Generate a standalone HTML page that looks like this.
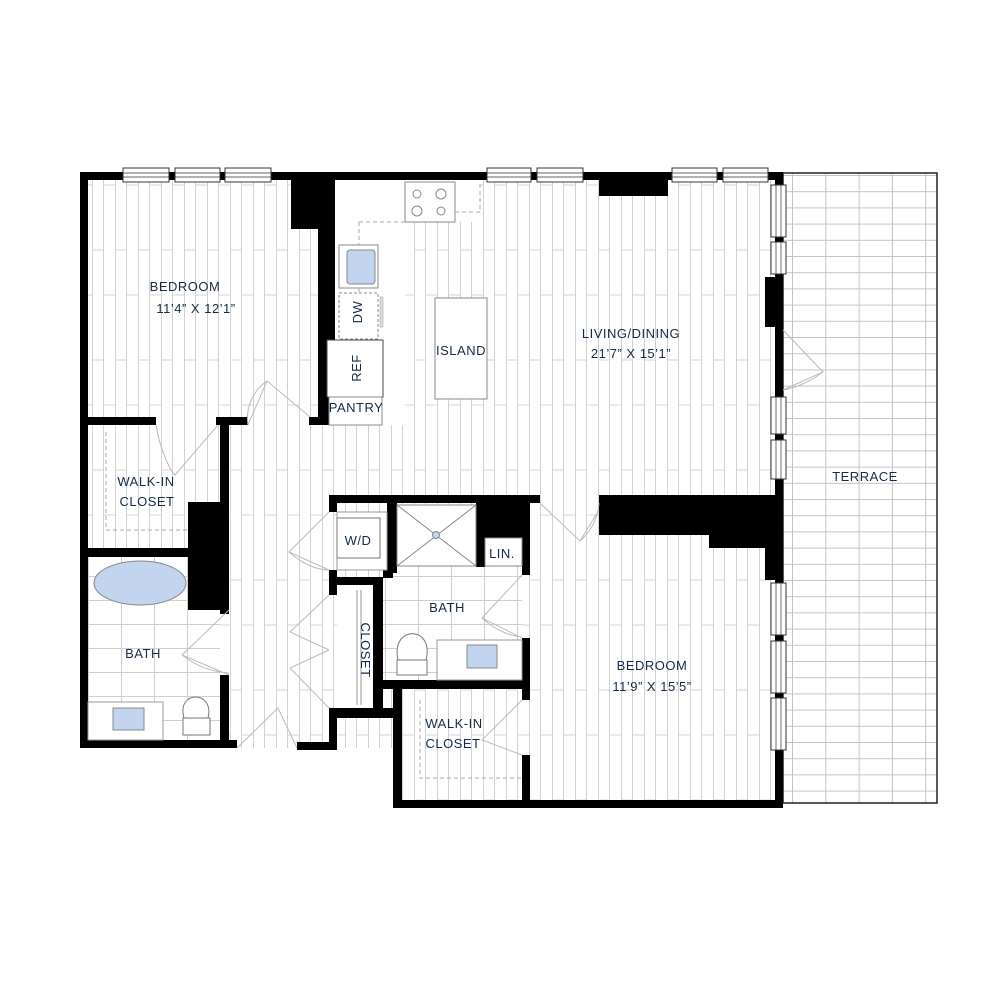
<!DOCTYPE html>
<html><head><meta charset="utf-8"><style>
html,body{margin:0;padding:0;background:#fff;width:1000px;height:1000px;overflow:hidden}
svg text{font-family:"Liberation Sans",sans-serif;fill:#132b4a;font-size:13px;letter-spacing:0.5px}
</style></head><body>
<svg width="1000" height="1000" viewBox="0 0 1000 1000" xmlns="http://www.w3.org/2000/svg">
<defs>
<pattern id="wood" x="0" y="0" width="23" height="110" patternUnits="userSpaceOnUse">
<rect width="23" height="110" fill="#fff"/>
<line x1="0.5" y1="0" x2="0.5" y2="110" stroke="#d2d2d2" stroke-width="1"/>
<line x1="11.5" y1="0" x2="11.5" y2="110" stroke="#d2d2d2" stroke-width="1"/>
<line x1="0" y1="30" x2="11" y2="30" stroke="#d6d6d6"/>
<line x1="12" y1="75" x2="23" y2="75" stroke="#d6d6d6"/>
</pattern>
<pattern id="tile" x="88" y="0" width="33" height="24" patternUnits="userSpaceOnUse">
<rect width="33" height="24" fill="#fff"/>
<path d="M0.5 0V24M0 0.5H33" stroke="#cfcfcf" fill="none"/>
</pattern>
<pattern id="terr" x="792" y="175" width="33.3" height="16.2" patternUnits="userSpaceOnUse">
<rect width="34" height="17" fill="#fff"/>
<path d="M0.5 0V17M0 0.5H34" stroke="#c4c4c4" fill="none"/>
</pattern>
</defs>

<rect x="88" y="180" width="688" height="620" fill="url(#wood)"/>
<rect x="335" y="180" width="70" height="245" fill="#fff"/>
<rect x="335" y="180" width="145" height="42" fill="#fff"/>
<rect x="88" y="557" width="132" height="183" fill="url(#tile)"/>
<rect x="383" y="566" width="139" height="114" fill="url(#tile)"/>
<rect x="783" y="173" width="154" height="630" fill="url(#terr)"/>
<rect x="783" y="173" width="154" height="630" fill="none" stroke="#222" stroke-width="1.5"/>
<rect x="0" y="808" width="1000" height="192" fill="#fff"/>
<rect x="80" y="748" width="313" height="60" fill="#fff"/>
<rect x="237" y="748" width="60" height="8" fill="#fff"/>

<g fill="#000">
<rect x="80" y="172" width="703" height="8"/>
<rect x="80" y="172" width="8" height="576"/>
<rect x="80" y="740" width="157" height="8"/>
<rect x="297" y="742" width="40" height="8"/>
<rect x="775" y="172" width="8" height="636"/>
<rect x="765" y="277" width="18" height="50"/>
<rect x="393" y="800" width="390" height="8"/>
<rect x="291" y="172" width="44" height="57"/>
<rect x="318" y="180" width="17" height="160"/>
<rect x="318" y="340" width="11" height="85"/>
<rect x="309" y="417" width="20" height="8"/>
<rect x="88" y="417" width="68" height="8"/>
<rect x="216" y="417" width="32" height="8"/>
<rect x="220" y="425" width="9" height="189"/>
<rect x="220" y="675" width="9" height="73"/>
<rect x="88" y="548" width="100" height="9"/>
<rect x="188" y="502" width="40" height="108"/>
<rect x="599" y="172" width="69" height="24"/>
<rect x="329" y="495" width="211" height="8"/>
<rect x="329" y="495" width="8" height="17"/>
<rect x="329" y="570" width="8" height="25"/>
<rect x="387" y="503" width="10" height="70"/>
<rect x="329" y="577" width="54" height="8"/>
<rect x="373" y="577" width="10" height="141"/>
<rect x="383" y="566" width="10" height="12"/>
<rect x="329" y="708" width="66" height="10"/>
<rect x="329" y="708" width="8" height="42"/>
<rect x="383" y="680" width="147" height="9"/>
<rect x="393" y="688" width="9" height="120"/>
<rect x="476" y="503" width="54" height="35"/>
<rect x="476" y="503" width="9" height="64"/>
<rect x="522" y="503" width="8" height="72"/>
<rect x="522" y="638" width="8" height="62"/>
<rect x="522" y="755" width="8" height="50"/>
<rect x="599" y="495" width="184" height="40"/>
<rect x="709" y="530" width="74" height="18"/>
<rect x="765" y="540" width="18" height="40"/>
</g>

<g fill="#fff" stroke="#333" stroke-width="1">
<rect x="123" y="168" width="46" height="14"/><rect x="175" y="168" width="45" height="14"/><rect x="225" y="168" width="46" height="14"/>
<rect x="487" y="168" width="44" height="14"/><rect x="537" y="168" width="46" height="14"/>
<rect x="672" y="168" width="45" height="14"/><rect x="723" y="168" width="45" height="14"/>
<rect x="771" y="185" width="15" height="52"/><rect x="771" y="242" width="15" height="32"/>
<rect x="771" y="397" width="15" height="37"/><rect x="771" y="440" width="15" height="39"/>
<rect x="771" y="583" width="15" height="52"/><rect x="771" y="641" width="15" height="52"/><rect x="771" y="698" width="15" height="52"/>
</g>
<g stroke="#333" stroke-width="0.7">
<path d="M123 173H169M123 177H169M175 173H220M175 177H220M225 173H271M225 177H271M487 173H531M487 177H531M537 173H583M537 177H583M672 173H717M672 177H717M723 173H768M723 177H768"/>
<path d="M776 185V237M781 185V237M776 242V274M781 242V274M776 397V434M781 397V434M776 440V479M781 440V479M776 583V635M781 583V635M776 641V693M781 641V693M776 698V750M781 698V750"/>
</g>

<g fill="#fff" stroke="#888" stroke-width="1">
<rect x="405" y="182" width="50" height="40"/>
<circle cx="417" cy="194" r="4"/><circle cx="441" cy="194" r="5"/><circle cx="417" cy="211" r="5"/><circle cx="441" cy="211" r="4"/>
<rect x="339" y="245" width="39" height="43"/>
<rect x="339" y="293" width="39" height="46" stroke-dasharray="3,2"/>
<rect x="327" y="340" width="56" height="57" stroke="#444"/>
<rect x="329" y="397" width="53" height="28"/>
<rect x="435" y="298" width="52" height="101"/>
</g>
<path d="M359 222V245M359 288V293M359 339V340M359 222H405M455 212H480V182" stroke="#aaa" stroke-dasharray="4,3" fill="none"/>
<rect x="347" y="250" width="28" height="34" rx="3" fill="#c2d4ee" stroke="#888"/>
<rect x="380" y="297" width="3" height="30" fill="#ddd" stroke="#999" stroke-width="0.5"/>

<ellipse cx="140" cy="583" rx="46" ry="22" fill="#c2d4ee" stroke="#888"/>
<rect x="88" y="702" width="75" height="38" fill="#fff" stroke="#999"/>
<rect x="113" y="708" width="31" height="22" fill="#c2d4ee" stroke="#888"/>
<path d="M183 735V718H210V735ZM184 718C176 690 215 690 208 718" fill="#fff" stroke="#777"/>
<rect x="397" y="505" width="79" height="61" fill="#fff" stroke="#888"/>
<path d="M397 505L476 566M476 505L397 566" stroke="#888"/>
<circle cx="436" cy="535" r="3.5" fill="#c2d4ee" stroke="#888"/>
<rect x="485" y="538" width="37" height="28" fill="#fff" stroke="#888"/>
<rect x="437" y="640" width="85" height="40" fill="#fff" stroke="#999"/>
<rect x="467" y="645" width="30" height="23" fill="#c2d4ee" stroke="#888"/>
<path d="M397 675V660H427V675ZM398 660C390 625 435 625 426 660" fill="#fff" stroke="#777"/>
<rect x="337" y="512" width="50" height="58" fill="#fff" stroke="#999"/>
<rect x="337" y="518" width="43" height="40" fill="#fff" stroke="#777"/>
<rect x="337" y="585" width="36" height="123" fill="#fff"/>
<path d="M357 590V705M361 590V705" stroke="#999"/>

<path d="M106 432V530H188" stroke="#aaa" stroke-dasharray="4,3" fill="none"/>
<path d="M420 700V778H522" stroke="#aaa" stroke-dasharray="4,3" fill="none"/>

<g stroke="#bbb" fill="none" stroke-width="1">
<path d="M248 425L267 381L310 417M248 425A45 45 0 0 1 267 381"/>
<path d="M156 425C160 450 170 470 175 475L218 425"/>
<path d="M229 610L182 655L229 675M182 655C195 665 210 672 229 673"/>
<path d="M329 512L289 552L329 570M289 552C300 562 315 570 329 570"/>
<path d="M329 595L290 632L329 650M329 650L290 668L329 708"/>
<path d="M522 575L482 618L522 638M482 618C495 630 510 636 522 637"/>
<path d="M522 700L482 740L522 755"/>
<path d="M540 503L580 541L599 510M580 541C592 530 598 518 599 503"/>
<path d="M783 330L823 372L783 390M823 372C810 382 795 388 783 390"/>
<path d="M237 748L278 708L297 748"/>
</g>

<text x="185" y="291" text-anchor="middle" font-size="12">BEDROOM</text>
<text x="196" y="313" text-anchor="middle" letter-spacing="2.5">11’4”  X  12’1”</text>
<text x="461" y="355" text-anchor="middle">ISLAND</text>
<text x="356" y="412" text-anchor="middle" font-size="12">PANTRY</text>
<text transform="translate(361,368) rotate(-90)" text-anchor="middle" font-size="12">REF</text>
<text transform="translate(362,312) rotate(-90)" text-anchor="middle" font-size="11">DW</text>
<text x="631" y="338" text-anchor="middle" letter-spacing="1.2">LIVING/DINING</text>
<text x="631" y="358" text-anchor="middle" letter-spacing="2.5">21’7”  X  15’1”</text>
<text x="865" y="481" text-anchor="middle" font-size="12">TERRACE</text>
<text x="146" y="486" text-anchor="middle" font-size="12" letter-spacing="1">WALK-IN</text>
<text x="147" y="506" text-anchor="middle" font-size="12" letter-spacing="1">CLOSET</text>
<text x="358" y="545" text-anchor="middle" letter-spacing="1">W/D</text>
<text x="502" y="558" text-anchor="middle" letter-spacing="1">LIN.</text>
<text x="447" y="612" text-anchor="middle" font-size="12">BATH</text>
<text x="143" y="658" text-anchor="middle" font-size="12">BATH</text>
<text transform="translate(361,650) rotate(90)" text-anchor="middle" font-size="12">CLOSET</text>
<text x="454" y="728" text-anchor="middle" font-size="12" letter-spacing="1">WALK-IN</text>
<text x="453" y="748" text-anchor="middle" font-size="12" letter-spacing="1">CLOSET</text>
<text x="652" y="670" text-anchor="middle" font-size="12">BEDROOM</text>
<text x="652" y="691" text-anchor="middle" letter-spacing="2.5">11’9”  X  15’5”</text>
</svg>
</body></html>
